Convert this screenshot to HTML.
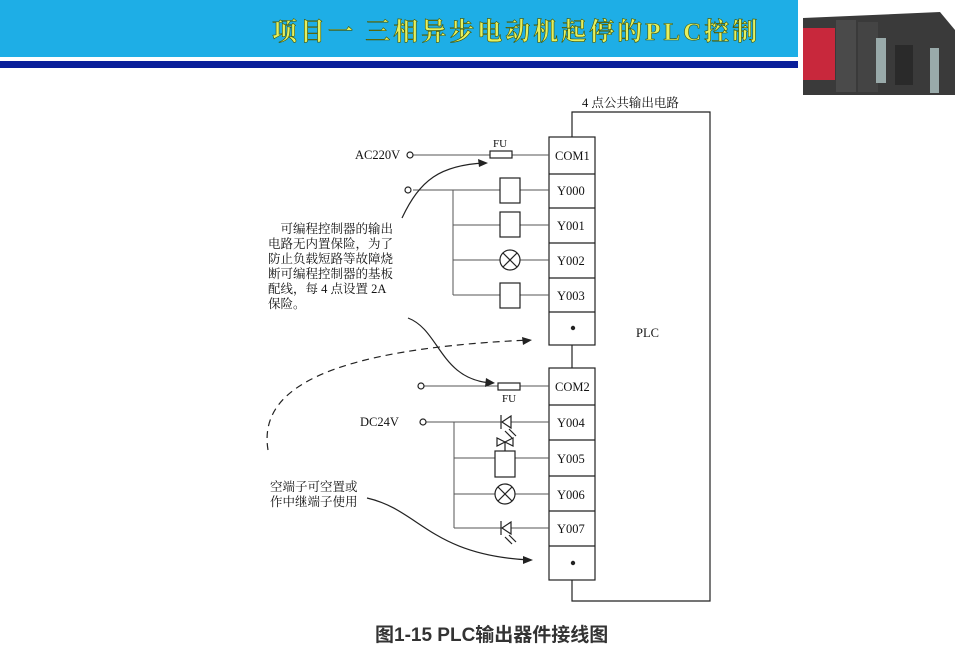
<!DOCTYPE html>
<html><head><meta charset="utf-8"><style>
body{margin:0;width:960px;height:649px;background:#fff;overflow:hidden}
svg text{font-family:"Liberation Serif","Noto Serif CJK SC",serif;fill:#111}
</style></head><body>
<svg width="960" height="649" viewBox="0 0 960 649" xmlns="http://www.w3.org/2000/svg">
<rect x="0" y="0" width="798" height="57" fill="#1eaee6"/>
<rect x="0" y="61" width="798" height="7" fill="#0a1f9a"/>
<text x="272" y="40" font-size="25" font-weight="bold" letter-spacing="3" style="fill:#e4f060;font-family:'Liberation Serif','Noto Serif CJK SC',serif" stroke="#445500" stroke-width="0.6">项目一  三相异步电动机起停的PLC控制</text>
<g>
<polygon points="803,18 940,12 955,30 955,95 803,95" fill="#3a3a3a"/>
<rect x="803" y="28" width="32" height="52" fill="#c8283c"/>
<rect x="836" y="20" width="20" height="72" fill="#4a4a4a"/>
<rect x="858" y="22" width="20" height="70" fill="#444"/>
<rect x="876" y="38" width="10" height="45" fill="#9aa"/>
<rect x="895" y="45" width="18" height="40" fill="#2a2a2a"/>
<rect x="930" y="48" width="9" height="45" fill="#9aa"/>
</g>
<g stroke="#222" stroke-width="1.2" fill="none">
<polyline points="572,137 572,112 710,112 710,601 572,601 572,580"/>
<line x1="572" y1="345" x2="572" y2="368"/>
<rect x="549" y="137" width="46" height="208" fill="#fff"/>
<line x1="549" y1="174" x2="595" y2="174"/><line x1="549" y1="208" x2="595" y2="208"/>
<line x1="549" y1="243" x2="595" y2="243"/><line x1="549" y1="278" x2="595" y2="278"/>
<line x1="549" y1="312" x2="595" y2="312"/>
<rect x="549" y="368" width="46" height="212" fill="#fff"/>
<line x1="549" y1="405" x2="595" y2="405"/><line x1="549" y1="440" x2="595" y2="440"/>
<line x1="549" y1="476" x2="595" y2="476"/><line x1="549" y1="511" x2="595" y2="511"/>
<line x1="549" y1="546" x2="595" y2="546"/>
</g>
<g stroke="#555" stroke-width="1" fill="none">
<line x1="413" y1="155" x2="549" y2="155"/>
<line x1="413" y1="190" x2="549" y2="190"/>
<line x1="453" y1="190" x2="453" y2="295"/>
<line x1="453" y1="225" x2="549" y2="225"/>
<line x1="453" y1="260" x2="549" y2="260"/>
<line x1="453" y1="295" x2="549" y2="295"/>
<line x1="424" y1="386" x2="549" y2="386"/>
<line x1="426" y1="422" x2="549" y2="422"/>
<line x1="454" y1="422" x2="454" y2="528"/>
<line x1="454" y1="458" x2="549" y2="458"/>
<line x1="454" y1="494" x2="549" y2="494"/>
<line x1="454" y1="528" x2="549" y2="528"/>
</g>
<g stroke="#222" stroke-width="1.2" fill="#fff">
<circle cx="410" cy="155" r="3"/><circle cx="408" cy="190" r="3"/>
<circle cx="421" cy="386" r="3"/><circle cx="423" cy="422" r="3"/>
<rect x="490" y="151" width="22" height="7"/>
<rect x="500" y="178" width="20" height="25"/>
<rect x="500" y="212" width="20" height="25"/>
<rect x="500" y="283" width="20" height="25"/>
<circle cx="510" cy="260" r="10"/>
<rect x="498" y="383" width="22" height="7"/>
<rect x="495" y="451" width="20" height="26"/>
<circle cx="505" cy="494" r="10"/>
</g>
<g stroke="#222" stroke-width="1.2" fill="none">
<line x1="503" y1="253" x2="517" y2="267"/><line x1="517" y1="253" x2="503" y2="267"/>
<line x1="498" y1="487" x2="512" y2="501"/><line x1="512" y1="487" x2="498" y2="501"/>
<polygon points="511,416 511,428 502,422" fill="#fff"/><line x1="501" y1="415" x2="501" y2="429"/>
<line x1="505" y1="431" x2="512" y2="438"/><line x1="509" y1="429" x2="516" y2="436"/>
<polygon points="511,522 511,534 502,528" fill="#fff"/><line x1="501" y1="521" x2="501" y2="535"/>
<line x1="505" y1="537" x2="512" y2="544"/><line x1="509" y1="535" x2="516" y2="542"/>
<polygon points="497,438 497,446 505,442 513,446 513,438 505,442"/>
<line x1="505" y1="442" x2="505" y2="451"/>
<path d="M402,218 C420,180 440,165 485,163"/>
<path d="M408,318 C440,330 440,380 492,383"/>
<path d="M268,450 C260,400 300,350 530,340" stroke-dasharray="7,5"/>
<path d="M367,498 C420,510 430,555 530,560"/>
</g>
<g fill="#222">
<polygon points="488,163 478,159 479,167"/>
<polygon points="495,383 486,378 485,387"/>
<polygon points="532,340 522,337 523,345"/>
<polygon points="533,560 523,556 523,564"/>
<circle cx="573" cy="328" r="2.2"/><circle cx="573" cy="563" r="2.2"/>
</g>
<g font-size="12.5">
<text x="582" y="107">4 点公共输出电路</text>
<text x="355" y="159">AC220V</text>
<text x="493" y="147" font-size="11">FU</text>
<text x="502" y="402" font-size="11">FU</text>
<text x="360" y="426">DC24V</text>
<text x="636" y="337">PLC</text>
<text x="555" y="160">COM1</text>
<text x="557" y="195">Y000</text><text x="557" y="230">Y001</text>
<text x="557" y="265">Y002</text><text x="557" y="300">Y003</text>
<text x="555" y="391">COM2</text>
<text x="557" y="427">Y004</text><text x="557" y="463">Y005</text>
<text x="557" y="499">Y006</text><text x="557" y="533">Y007</text>
<text x="268" y="233">　可编程控制器的输出</text>
<text x="268" y="248">电路无内置保险，为了</text>
<text x="268" y="263">防止负载短路等故障烧</text>
<text x="268" y="278">断可编程控制器的基板</text>
<text x="268" y="293">配线，每 4 点设置 2A</text>
<text x="268" y="308">保险。</text>
<text x="270" y="491">空端子可空置或</text>
<text x="270" y="506">作中继端子使用</text>
</g>
<text x="375" y="641" font-size="19" font-weight="bold" style="font-family:'Liberation Sans','Noto Sans CJK SC',sans-serif;fill:#333">图1-15   PLC输出器件接线图</text>
</svg>
</body></html>
